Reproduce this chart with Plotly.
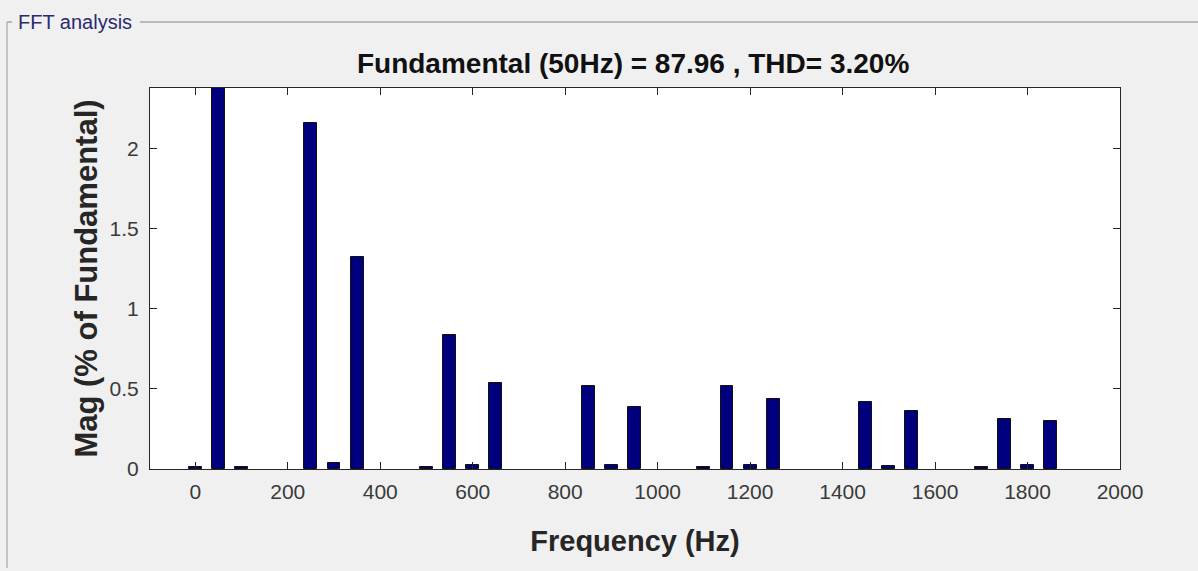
import plotly.graph_objects as go

# Harmonic spectrum (frequency in Hz, magnitude in % of fundamental)
freqs = [0, 50, 100, 250, 300, 350, 500, 550, 600, 650, 850, 900, 950,
         1100, 1150, 1200, 1250, 1450, 1500, 1550, 1700, 1750, 1800, 1850]
mags = [0.015, 100.0, 0.013, 2.16, 0.037, 1.325, 0.013, 0.84, 0.025, 0.54,
        0.52, 0.022, 0.39, 0.013, 0.52, 0.025, 0.44, 0.42, 0.02, 0.36,
        0.013, 0.31, 0.025, 0.30]
x_ticks = [0, 200, 400, 600, 800, 1000, 1200, 1400, 1600, 1800, 2000]
y_ticks = [0, 0.5, 1, 1.5, 2]

title_text = "Fundamental (50Hz) = 87.96 , THD= 3.20%"
panel_title = "FFT analysis"

FONT = "Liberation Sans, Arial, sans-serif"

fig = go.Figure()
fig.add_trace(go.Bar(
    x=freqs, y=mags, width=28,
    marker=dict(color="#00007f", line=dict(color="#111111", width=1)),
    cliponaxis=True,
))

axis_font = dict(family=FONT, size=21, color="#3a3a3a")

fig.update_layout(
    width=1198, height=571,
    paper_bgcolor="#f0f0f0", plot_bgcolor="#ffffff",
    margin=dict(l=150, r=78, t=88, b=102),
    showlegend=False,
    bargap=0,
    title=dict(text="<b>" + title_text + "</b>", x=0.5285, xanchor="center",
               y=1 - 63 / 571, yanchor="middle",
               font=dict(family=FONT, size=28, color="#111111")),
    xaxis=dict(
        range=[-98, 2000], tickvals=x_ticks, ticktext=[str(v) for v in x_ticks],
        ticks="inside", ticklen=7, tickcolor="#262626", tickwidth=1,
        showline=True, linecolor="#262626", linewidth=1, mirror="ticks",
        showgrid=False, zeroline=False, tickfont=axis_font, ticklabelstandoff=4,
        title=dict(text="<b>Frequency (Hz)</b>", standoff=28,
                   font=dict(family=FONT, size=29, color="#262626")),
    ),
    yaxis=dict(
        range=[0, 2.38], tickvals=y_ticks, ticktext=["0", "0.5", "1", "1.5", "2"],
        ticks="inside", ticklen=7, tickcolor="#262626", tickwidth=1,
        showline=True, linecolor="#262626", linewidth=1, mirror="ticks",
        showgrid=False, zeroline=False, tickfont=axis_font, ticklabelstandoff=6,
        title=dict(text="<b>Mag (% of Fundamental)</b>", standoff=2,
                   font=dict(family=FONT, size=31, color="#262626")),
    ),
)

# Panel frame (uipanel look)
ytop = 1 + (88 - 22) / 381
fig.add_shape(type="line", xref="paper", yref="paper",
              x0=(140 - 150) / 970, x1=(1198 - 150) / 970, y0=ytop, y1=ytop,
              line=dict(color="#a8a8a8", width=1.5))
fig.add_shape(type="line", xref="paper", yref="paper",
              x0=(7 - 150) / 970, x1=(7 - 150) / 970,
              y0=ytop, y1=-(568 - 469) / 381,
              line=dict(color="#b4b4b4", width=1.5))
fig.add_shape(type="line", xref="paper", yref="paper",
              x0=(7 - 150) / 970, x1=(12 - 150) / 970, y0=ytop, y1=ytop,
              line=dict(color="#a8a8a8", width=1.5))
fig.add_annotation(text=panel_title, xref="paper", yref="paper",
                   x=(16 - 150) / 970, y=ytop,
                   xanchor="left", yanchor="middle", showarrow=False,
                   font=dict(family=FONT, size=20, color="#2a2a70"))

fig.write_html(
    "out.html",
    config={"displayModeBar": False},
    post_script="document.body.style.margin='0';document.body.style.background='#f0f0f0';",
)
